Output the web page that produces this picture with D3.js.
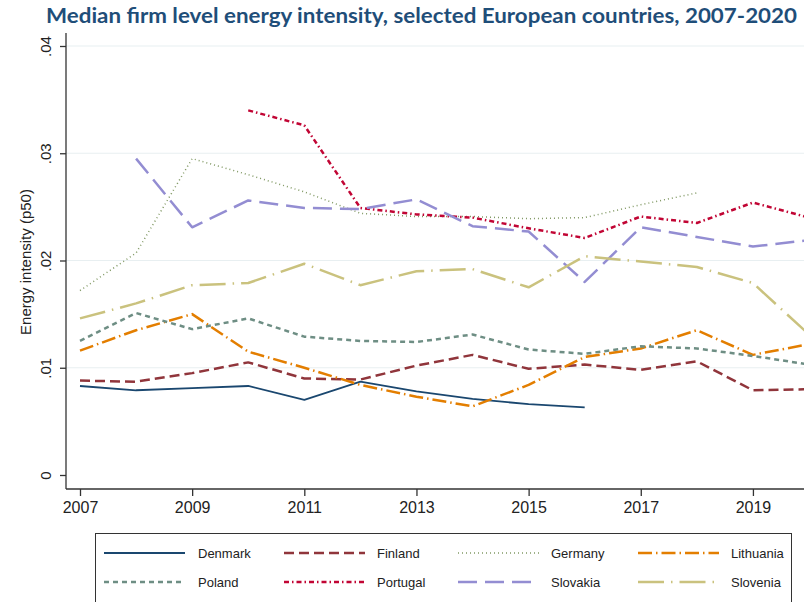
<!DOCTYPE html>
<html>
<head>
<meta charset="utf-8">
<script src="https://cdn.jsdelivr.net/npm/d3@7"></script>
<style>
  html, body { margin: 0; padding: 0; background: #fff; }
  svg { display: block; }
</style>
</head>
<body>
<svg id="chart" width="804" height="602"></svg>
<script>
// ---- Data ----
const years = [2007,2008,2009,2010,2011,2012,2013,2014,2015,2016,2017,2018,2019,2020];
const denmark   = [0.0083,0.0079,0.0081,0.0083,0.0070,0.0087,0.0078,0.0071,0.0066,0.0063,null,null,null,null];
const finland   = [0.0088,0.0087,0.0095,0.0105,0.0090,0.0089,0.0102,0.0112,0.0099,0.0103,0.0098,0.0106,0.0079,0.0080];
const germany   = [0.0172,0.0207,0.0295,0.0280,0.0264,0.0244,0.0241,0.0241,0.0239,0.0240,0.0252,0.0263,null,null];
const lithuania = [0.0116,0.0135,0.0150,0.0115,0.0100,0.0084,0.0073,0.0064,0.0084,0.0110,0.0118,0.0135,0.0112,0.0122];
const poland    = [0.0125,0.0151,0.0136,0.0146,0.0129,0.0125,0.0124,0.0131,0.0117,0.0113,0.0120,0.0118,0.0111,0.0103];
const portugal  = [null,null,null,0.0340,0.0326,0.0249,0.0243,0.0240,0.0230,0.0221,0.0241,0.0235,0.0254,0.0240];
const slovakia  = [null,0.0295,0.0231,0.0256,0.0249,0.0248,0.0257,0.0232,0.0227,0.0180,0.0231,0.0222,0.0213,0.0219];
const slovenia  = [0.0146,0.0160,0.0177,0.0179,0.0197,0.0177,0.0190,0.0192,0.0175,0.0204,0.0199,0.0194,0.0179,0.0131];

const xTicks = [2007,2009,2011,2013,2015,2017,2019];
const yTicks = [0,0.01,0.02,0.03,0.04];
const yTickLabels = ["0",".01",".02",".03",".04"];

const titleText = "Median firm level energy intensity, selected European countries, 2007-2020";
const yTitle = "Energy intensity (p50)";

const series = [
  {name:"Denmark",   values:denmark,   color:"#1a476f", dash:null,          width:1.8},
  {name:"Finland",   values:finland,   color:"#90353b", dash:"10 5",        width:2.5},
  {name:"Germany",   values:germany,   color:"#55752f", dash:"1 3",         width:1.5, opacity:0.75},
  {name:"Lithuania", values:lithuania, color:"#e37e00", dash:"14 4 1.5 4",  width:2.5},
  {name:"Poland",    values:poland,    color:"#6e8e84", dash:"5 4",         width:2.5},
  {name:"Portugal",  values:portugal,  color:"#c10534", dash:"5 3 1.5 3",   width:2.5},
  {name:"Slovakia",  values:slovakia,  color:"#938dd2", dash:"19 8",        width:2.5},
  {name:"Slovenia",  values:slovenia,  color:"#cac27e", dash:"26 7 1.5 7",  width:2.5}
];

// ---- Layout ----
const svg = d3.select("#chart");
const font = "'Liberation Sans', Arial, Helvetica, sans-serif";

const x = d3.scaleLinear().domain([2007, 2020]).range([80, 809]);
const y = d3.scaleLinear().domain([0, 0.04]).range([475, 46]);
const axisX = 66;   // y axis position
const axisY = 489;  // x axis position

// gridlines
svg.append("g").selectAll("line").data(yTicks.filter(d => d > 0)).join("line")
  .attr("x1", axisX).attr("x2", 804)
  .attr("y1", d => y(d)).attr("y2", d => y(d))
  .attr("stroke", "#e8eff1").attr("stroke-width", 1.2);

// Y axis
const yAxis = d3.axisLeft(y).tickValues(yTicks)
  .tickFormat((d, i) => yTickLabels[i]).tickSize(6).tickSizeOuter(0);
const gy = svg.append("g").attr("transform", `translate(${axisX},0)`).call(yAxis);
gy.select(".domain").remove();
gy.append("line").attr("x1", 0).attr("x2", 0).attr("y1", 33).attr("y2", axisY)
  .attr("stroke", "#333").attr("stroke-width", 1.3);
gy.selectAll(".tick line").attr("stroke", "#333").attr("stroke-width", 1.3);
gy.selectAll(".tick text")
  .attr("font-family", font).attr("font-size", 15).attr("fill", "#222")
  .attr("text-anchor", "middle")
  .attr("dy", 0)
  .attr("transform", "translate(-20,0) rotate(-90)")
  .attr("x", 0).attr("y", 5);

// X axis
const xAxis = d3.axisBottom(x).tickValues(xTicks).tickFormat(d3.format("d"))
  .tickSize(7).tickSizeOuter(0);
const gx = svg.append("g").attr("transform", `translate(0,${axisY})`).call(xAxis);
gx.select(".domain").remove();
gx.append("line").attr("x1", axisX).attr("x2", 804).attr("y1", 0).attr("y2", 0)
  .attr("stroke", "#333").attr("stroke-width", 1.3);
gx.selectAll(".tick line").attr("stroke", "#333").attr("stroke-width", 1.3);
gx.selectAll(".tick text")
  .attr("font-family", font).attr("font-size", 16).attr("fill", "#222")
  .attr("y", 13).attr("dy", "0.71em");

// Y title
svg.append("text")
  .attr("transform", `translate(31,262) rotate(-90)`)
  .attr("text-anchor", "middle")
  .attr("font-family", font).attr("font-size", 15).attr("fill", "#222")
  .text(yTitle);

// Title
svg.append("text")
  .attr("x", 46).attr("y", 23)
  .attr("textLength", 751).attr("lengthAdjust", "spacingAndGlyphs")
  .attr("font-family", "Lato, 'Open Sans', sans-serif").attr("font-weight", "bold")
  .attr("font-size", 20).attr("fill", "#1f4e79")
  .text(titleText);

// Lines
const line = d3.line()
  .defined(d => d.v !== null)
  .x(d => x(d.year)).y(d => y(d.v));

svg.append("g").selectAll("path").data(series).join("path")
  .attr("d", s => line(years.map((yr, i) => ({year: yr, v: s.values[i]}))))
  .attr("fill", "none")
  .attr("stroke", s => s.color)
  .attr("stroke-width", s => s.width)
  .attr("stroke-dasharray", s => s.dash)
  .attr("stroke-opacity", s => s.opacity || 1)
  .attr("stroke-linejoin", "round");

// Legend
const lg = svg.append("g");
lg.append("rect").attr("x", 95.5).attr("y", 533.5).attr("width", 696).attr("height", 100)
  .attr("fill", "#fff").attr("stroke", "#333").attr("stroke-width", 1);
const colX = [104, 284, 458, 638];
const textX = [198, 377, 551, 731];
const rowY = [553, 582];
series.forEach((s, i) => {
  const c = i % 4, r = Math.floor(i / 4);
  lg.append("line")
    .attr("x1", colX[c]).attr("x2", colX[c] + 81)
    .attr("y1", rowY[r]).attr("y2", rowY[r])
    .attr("stroke", s.color).attr("stroke-width", s.width)
    .attr("stroke-dasharray", s.dash)
    .attr("stroke-opacity", s.opacity || 1);
  lg.append("text")
    .attr("x", textX[c]).attr("y", rowY[r]).attr("dy", "0.35em")
    .attr("font-family", font).attr("font-size", 13).attr("fill", "#222")
    .text(s.name);
});
</script>
</body>
</html>
